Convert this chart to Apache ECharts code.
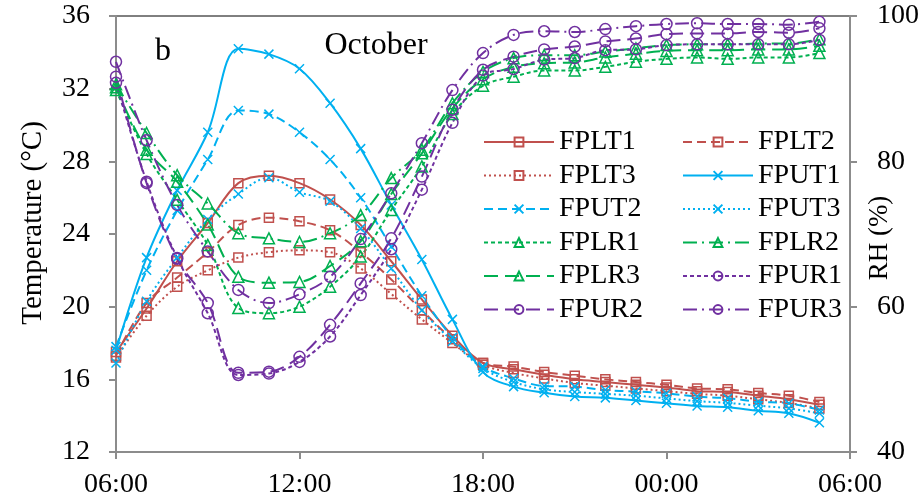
<!DOCTYPE html>
<html>
<head>
<meta charset="utf-8">
<script src="https://cdn.jsdelivr.net/npm/echarts@6/dist/echarts.min.js"></script>
<style>
  html, body { margin: 0; padding: 0; background: #fff; }
  #chart { width: 924px; height: 503px; }
</style>
</head>
<body>
<div id="chart"></div>
<script>
// hours after 06:00
const hours = [0, 1, 2, 3, 4, 5, 6, 7, 8, 9, 10, 11, 12, 13, 14, 15, 16, 17, 18, 19, 20, 21, 22, 23];
const xTickLabels = ["06:00", "12:00", "18:00", "00:00", "06:00"];

// temperature (°C)
const FPLT1 = [17.5, 19.9, 22.5, 24.6, 26.8, 27.2, 26.8, 25.9, 24.5, 22.5, 20.4, 18.4, 16.9, 16.55, 16.25, 16.0, 15.85, 15.7, 15.55, 15.35, 15.3, 15.1, 14.9, 14.6];
const FPLT2 = [17.3, 20.2, 21.6, 23.0, 24.5, 24.9, 24.7, 24.2, 23.0, 21.5, 19.8, 18.2, 16.9, 16.7, 16.4, 16.2, 16.0, 15.85, 15.7, 15.5, 15.45, 15.25, 15.1, 14.75];
const FPLT3 = [17.2, 19.5, 21.1, 22.0, 22.7, 23.0, 23.1, 23.0, 22.1, 20.7, 19.3, 18.0, 16.8, 16.35, 16.05, 15.8, 15.65, 15.5, 15.35, 15.2, 15.1, 14.9, 14.7, 14.4];
const FPUT1 = [17.6, 22.7, 26.4, 29.6, 34.2, 33.9, 33.1, 31.2, 28.7, 25.6, 22.6, 19.3, 16.4, 15.6, 15.26, 15.05, 14.98, 14.83, 14.68, 14.53, 14.46, 14.27, 14.13, 13.61];
const FPUT2 = [17.8, 22.0, 25.3, 28.1, 30.8, 30.6, 29.6, 28.1, 26.0, 23.3, 20.6, 18.3, 16.7, 16.05, 15.63, 15.6, 15.41, 15.33, 15.23, 15.05, 14.96, 14.77, 14.68, 14.31];
const FPUT3 = [16.9, 20.3, 22.7, 24.8, 26.2, 27.1, 26.3, 25.8, 24.3, 22.1, 19.8, 18.1, 16.6, 15.85, 15.45, 15.3, 15.2, 15.1, 14.95, 14.8, 14.7, 14.55, 14.4, 14.13];

// relative humidity (%)
const FPLR1 = [89.8, 81.0, 74.7, 68.5, 59.8, 59.1, 60.0, 62.75, 66.9, 73.3, 79.3, 86.5, 90.4, 91.65, 92.5, 92.5, 93.0, 93.7, 94.1, 94.3, 94.1, 94.3, 94.3, 94.9];
const FPLR2 = [90.6, 83.9, 78.1, 74.2, 70.1, 69.4, 68.9, 70.1, 72.6, 77.7, 81.6, 88.0, 92.3, 94.2, 94.6, 94.6, 95.1, 95.55, 96.0, 96.1, 96.1, 96.2, 96.2, 96.8];
const FPLR3 = [90.2, 81.6, 77.2, 71.3, 64.1, 63.3, 63.4, 65.6, 69.0, 75.5, 81.1, 87.3, 91.3, 93.0, 93.5, 93.6, 94.3, 94.8, 95.2, 95.3, 95.3, 95.4, 95.4, 95.9];
const FPUR1 = [90.8, 77.2, 66.7, 59.1, 50.6, 50.8, 52.4, 55.9, 61.6, 67.9, 76.1, 85.3, 91.8, 92.7, 94.0, 94.2, 95.3, 95.4, 96.0, 96.1, 96.1, 96.1, 96.1, 96.7];
const FPUR2 = [91.65, 77.0, 66.6, 60.5, 50.9, 51.05, 53.1, 57.5, 63.2, 69.4, 77.9, 87.1, 92.6, 94.4, 95.4, 95.8, 96.5, 96.9, 97.5, 97.6, 97.6, 97.8, 97.7, 98.3];
const FPUR3 = [93.7, 82.9, 74.0, 67.6, 62.3, 60.5, 61.7, 64.1, 69.3, 75.6, 82.5, 89.8, 94.9, 97.4, 97.9, 97.8, 98.2, 98.6, 98.9, 99.0, 98.9, 98.9, 98.8, 99.2];

const RED = "#C0504D", BLUE = "#00B0F0", GREEN = "#00B050", PURPLE = "#7030A0";
const FONT = "Liberation Serif";
const CROSS = "path://M0,0L10,10M10,0L0,10";

const dotted = [2, 3];
const shortDash = [4, 3];
const dash = [9, 5];
const longDash = [14, 7];
const longDashDot = [14, 5, 2, 5];

const mk = (name, values, color, type, symbol, size, axis) => ({
  name,
  type: "line",
  yAxisIndex: axis,
  data: hours.map((h, i) => [h, values[i]]),
  smooth: 0.35,
  symbol,
  symbolSize: size,
  lineStyle: { color, width: 2, type },
  itemStyle: { color: "transparent", borderColor: color, borderWidth: 1.5 },
  emphasis: { disabled: true },
});

const series = [
  mk("FPLT1", FPLT1, RED, "solid", "rect", 9, 0),
  mk("FPLT2", FPLT2, RED, dash, "rect", 9, 0),
  mk("FPLT3", FPLT3, RED, dotted, "rect", 9, 0),
  mk("FPUT1", FPUT1, BLUE, "solid", CROSS, 9, 0),
  mk("FPUT2", FPUT2, BLUE, dash, CROSS, 9, 0),
  mk("FPUT3", FPUT3, BLUE, dotted, CROSS, 9, 0),
  mk("FPLR1", FPLR1, GREEN, shortDash, "triangle", 11, 1),
  mk("FPLR2", FPLR2, GREEN, longDashDot, "triangle", 11, 1),
  mk("FPLR3", FPLR3, GREEN, longDash, "triangle", 11, 1),
  mk("FPUR1", FPUR1, PURPLE, shortDash, "circle", 11, 1),
  mk("FPUR2", FPUR2, PURPLE, longDash, "circle", 11, 1),
  mk("FPUR3", FPUR3, PURPLE, longDashDot, "circle", 11, 1),
];

const legendBase = {
  orient: "vertical",
  top: 123,
  itemWidth: 70,
  itemHeight: 11,
  itemGap: 5.5,
  selectedMode: false,
  textStyle: { fontFamily: FONT, fontSize: 28, color: "#000" },
};

const grey = "#8c8c8c";
const axisText = { fontFamily: FONT, fontSize: 28, color: "#000" };
const txt = (text, x, y, size, rot) => ({
  type: "text", x, y, rotation: rot || 0,
  style: { text, fontFamily: FONT, fontSize: size, fill: "#000", align: "center", verticalAlign: "middle" },
});

const chart = echarts.init(document.getElementById("chart"));
chart.setOption({
  animation: false,
  grid: { left: 116, right: 74, top: 16, bottom: 51, show: true, borderColor: "#000", borderWidth: 1 },
  legend: [
    { ...legendBase, left: 478, data: ["FPLT1", "FPLT3", "FPUT2", "FPLR1", "FPLR3", "FPUR2"] },
    { ...legendBase, left: 677, data: ["FPLT2", "FPUT1", "FPUT3", "FPLR2", "FPUR1", "FPUR3"] },
  ],
  xAxis: {
    type: "value",
    min: 0,
    max: 24,
    interval: 6,
    axisLine: { lineStyle: { color: grey, width: 2 } },
    axisTick: { length: 7, lineStyle: { color: grey, width: 2 } },
    splitLine: { show: false },
    axisLabel: { ...axisText, margin: 19, formatter: (v) => xTickLabels[v / 6] },
  },
  yAxis: [
    {
      type: "value",
      min: 12,
      max: 36,
      interval: 4,
      position: "left",
      axisLine: { show: true, lineStyle: { color: grey, width: 2 } },
      axisTick: { show: true, length: 7, lineStyle: { color: grey, width: 2 } },
      splitLine: { show: false },
      axisLabel: { ...axisText, margin: 26 },
    },
    {
      type: "value",
      min: 40,
      max: 100,
      interval: 20,
      position: "right",
      axisLine: { show: true, lineStyle: { color: grey, width: 2 } },
      axisTick: { show: true, length: 7, lineStyle: { color: grey, width: 2 } },
      splitLine: { show: false },
      axisLabel: { ...axisText, margin: 27 },
    },
  ],
  graphic: [
    txt("b", 163, 52, 32),
    txt("October", 376, 46, 32),
    txt("Temperature (°C)", 33, 223, 29, Math.PI / 2),
    txt("RH (%)", 880, 238, 27, Math.PI / 2),
  ],
  series,
});
</script>
</body>
</html>
